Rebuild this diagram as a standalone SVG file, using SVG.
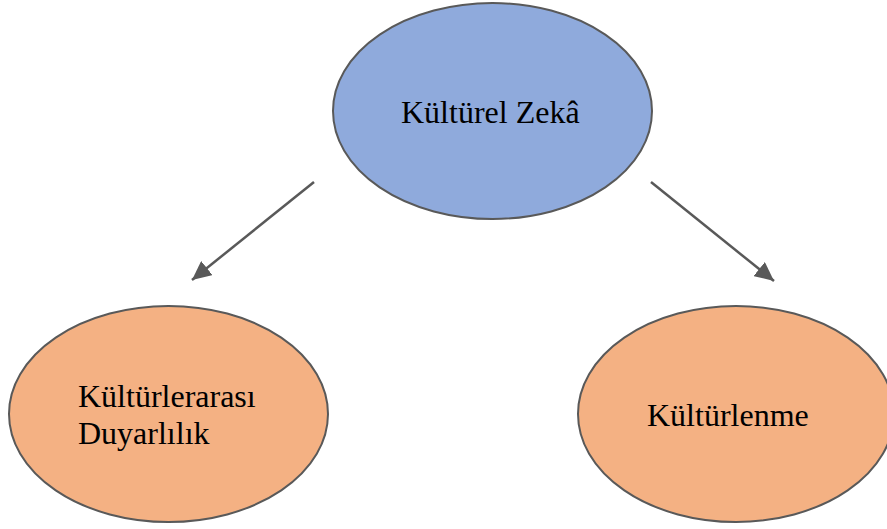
<svg xmlns="http://www.w3.org/2000/svg" width="887" height="529" viewBox="0 0 887 529">
<style>
.node ellipse{stroke:#595959;stroke-width:2}
.blue{fill:#8FAADC}
.orange{fill:#F4B183}
text{font-family:"Liberation Serif","Times New Roman",serif;font-size:32px;fill:#000}
.conn line{stroke:#595959;stroke-width:2.5}
</style>
<defs>
<marker id="ah" markerUnits="userSpaceOnUse" markerWidth="20" markerHeight="18" refX="19" refY="9" orient="auto">
<path d="M0,0 L19,9 L0,18 Z" fill="#595959"/>
</marker>
</defs>
<rect width="887" height="529" fill="#fff"/>
<g id="connectors" class="conn">
<line x1="314" y1="182" x2="192" y2="280" marker-end="url(#ah)"/>
<line x1="651" y1="182" x2="774" y2="281" marker-end="url(#ah)"/>
</g>
<g id="kulturel-zeka" class="node">
<ellipse class="blue" cx="492.5" cy="111" rx="159.5" ry="108"/>
<text x="401" y="123">Kültürel Zekâ</text>
</g>
<g id="kulturlerarasi" class="node">
<ellipse class="orange" cx="168.5" cy="414" rx="159.5" ry="108"/>
<text x="78" y="407">Kültürlerarası</text>
<text x="78" y="444">Duyarlılık</text>
</g>
<g id="kulturlenme" class="node">
<ellipse class="orange" cx="736" cy="414" rx="158" ry="108"/>
<text x="647" y="426">Kültürlenme</text>
</g>
</svg>
